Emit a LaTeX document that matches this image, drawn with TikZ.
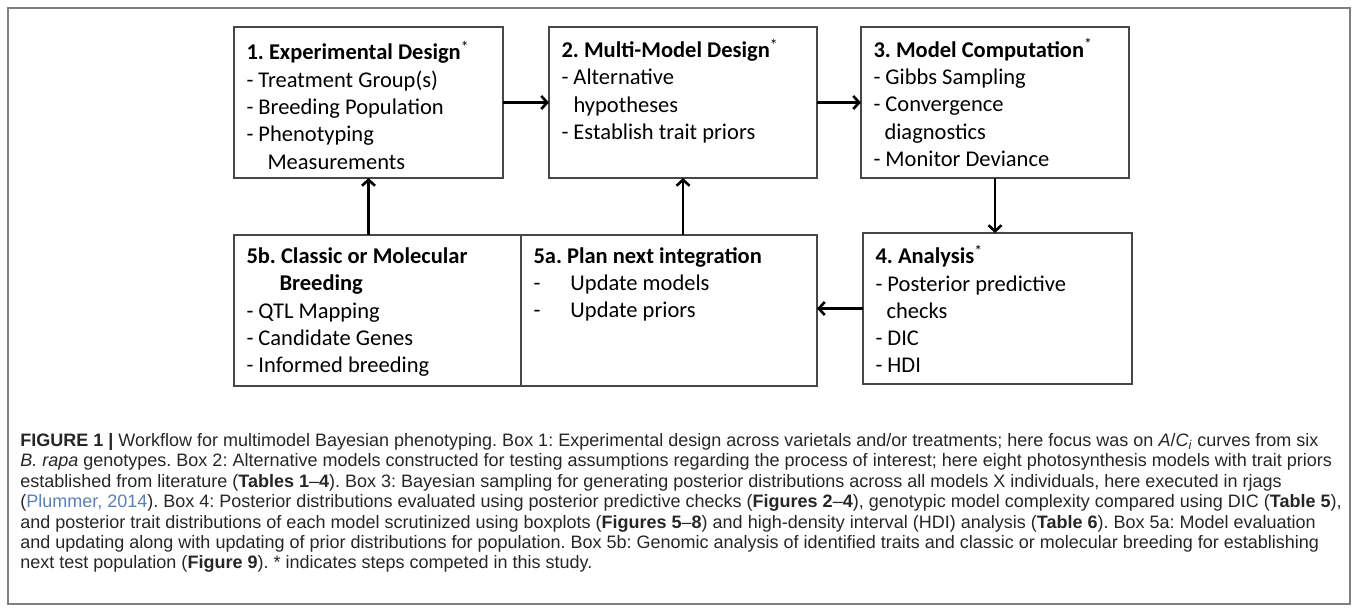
\documentclass[tikz,border=0pt]{standalone}
\usepackage{fontspec}
\setmainfont{Carlito}
\newfontfamily\capfont{Liberation Sans}
\usepackage{tikz}
\usetikzlibrary{arrows.meta, positioning}
\usepackage{xcolor}
\definecolor{boxgray}{HTML}{474747}
\definecolor{framegray}{HTML}{808080}
\definecolor{captext}{HTML}{262626}
\definecolor{citeblue}{HTML}{5B80B2}
\frenchspacing

\begin{document}
\begin{tikzpicture}[x=1pt, y=1pt, thick]
        % Define block styles
        \tikzstyle{block} = [rectangle, draw=boxgray, line width=1.3pt, outer sep=0pt, inner xsep=12.5pt, inner ysep=9pt, anchor=north west, font=\fontsize{22.5}{27.3}\selectfont]
        \tikzstyle{line} = [draw, line width=2.6pt, -{Straight Barb[length=6pt, width=13pt]}]
        \tikzstyle{caption} = [anchor=north west, align=left, inner sep=0pt, text=captext, font=\capfont\fontsize{18}{20.4}\selectfont]

        \useasboundingbox (0,0) rectangle (1357,-612);
        \draw [framegray, line width=1.2pt] (8,-8) rectangle (1350,-604);

        % Define nodes
        \node [block] (design) at (234,-27) {\parbox[t][133pt][t]{244pt}{\rule{0pt}{24pt}\textbf{1. Experimental Design}\textsuperscript{*}\\
            - Treatment Group(s)\\
            - Breeding Population\\
            - Phenotyping\\
            \hspace*{21pt}Measurements}};
        \node [block, right=46pt of design] (multi) {\parbox[t][133pt][t]{243pt}{\rule{0pt}{21.6pt}\textbf{2. Multi-Model Design}\textsuperscript{*}\\
            - Alternative\\
            \hspace*{12pt}hypotheses\\
            - Establish trait priors}};
        \node [block, right=44pt of multi] (comp) {\parbox[t][133pt][t]{243pt}{\rule{0pt}{21.2pt}\textbf{3. Model Computation}\textsuperscript{*}\\
            - Gibbs Sampling\\
            - Convergence\\
            \hspace*{11pt}diagnostics\\
            - Monitor Deviance}};
        \node [block, below=55pt of comp.south west, anchor=north west, xshift=2pt] (analysis) {\parbox[t][133pt][t]{244pt}{\rule{0pt}{21.8pt}\textbf{4. Analysis}\textsuperscript{*}\\
            - Posterior predictive\\
            \hspace*{11pt}checks\\
            - DIC\\
            - HDI}};
        \node [block, below=57pt of design.south west, anchor=north west] (breed) {\parbox[t][133pt][t]{262pt}{\rule{0pt}{19.5pt}\textbf{5b. Classic or Molecular}\\
            \hspace*{33pt}\textbf{Breeding}\\
            - QTL Mapping\\
            - Candidate Genes\\
            - Informed breeding}};
        \node [block, right=0pt of breed] (plan) {\parbox[t][133pt][t]{271pt}{\strut\textbf{5a. Plan next integration}\\
            \makebox[37pt][l]{-}Update models\\
            \makebox[37pt][l]{-}Update priors}};

        \node [caption] (legend) at (20,-433) {\textbf{FIGURE 1 |} Workflow for multimodel Bayesian phenotyping. Box 1: Experimental design across varietals and/or treatments; here focus was on \textit{A}/\textit{C}\textsubscript{\textit{i}} curves from six\\
            \textit{B. rapa} genotypes. Box 2: Alternative models constructed for testing assumptions regarding the process of interest; here eight photosynthesis models with trait priors\\
            established from literature (\textbf{Tables 1}–\textbf{4}). Box 3: Bayesian sampling for generating posterior distributions across all models X individuals, here executed in rjags\\
            (\textcolor{citeblue}{Plummer, 2014}). Box 4: Posterior distributions evaluated using posterior predictive checks (\textbf{Figures 2}–\textbf{4}), genotypic model complexity compared using DIC (\textbf{Table 5}),\\
            and posterior trait distributions of each model scrutinized using boxplots (\textbf{Figures 5}–\textbf{8}) and high-density interval (HDI) analysis (\textbf{Table 6}). Box 5a: Model evaluation\\
            and updating along with updating of prior distributions for population. Box 5b: Genomic analysis of identified traits and classic or molecular breeding for establishing\\
            next test population (\textbf{Figure 9}). * indicates steps competed in this study.};

        % Connect nodes with paths
        \path [line] (design) -- (multi);
        \path [line] (multi) -- (comp);
        \path [line] (comp.south) -- (comp.south |- analysis.north);
        \path [line] (analysis.west) -- (analysis.west -| plan.east);
        \path [line] (plan.north -| multi.south) -- (multi.south);
        \path [line] (breed.north -| design.south) -- (design.south);

    \end{tikzpicture}
\end{document}
